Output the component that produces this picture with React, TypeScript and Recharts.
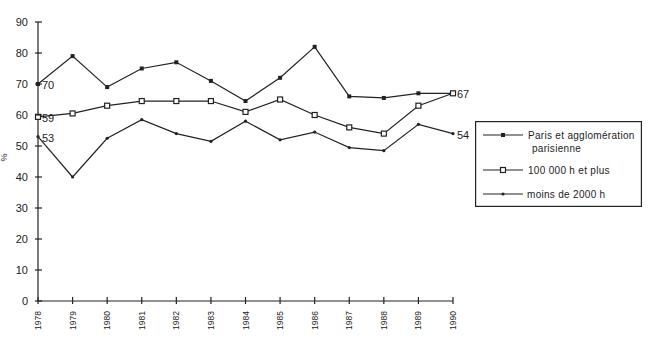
import { LineChart, Line, XAxis, YAxis, LabelList } from "recharts"

const years = [1978, 1979, 1980, 1981, 1982, 1983, 1984, 1985, 1986, 1987, 1988, 1989, 1990]
const paris = [70, 79, 69, 75, 77, 71, 64.5, 72, 82, 66, 65.5, 67, 67]
const grandes = [59.4, 60.5, 63, 64.5, 64.5, 64.5, 61, 65, 60, 56, 54, 63, 67]
const petites = [53, 40, 52.5, 58.5, 54, 51.5, 58, 52, 54.5, 49.5, 48.5, 57, 54]
const yTicks = [0, 10, 20, 30, 40, 50, 60, 70, 80, 90]

const seriesNames = ["Paris et agglomération", "100 000 h et plus", "moins de 2000 h"]

const data = years.map((year, i) => ({
  year,
  paris: paris[i],
  grandes: grandes[i],
  petites: petites[i],
}))

const ink = "#222"
const font = "'Liberation Sans', Arial, sans-serif"

function FilledSquare(props: any) {
  const { cx, cy } = props
  if (cx == null || cy == null) return null
  return <rect x={cx - 2} y={cy - 2} width={4} height={4} fill={ink} />
}

function OpenSquare(props: any) {
  const { cx, cy } = props
  if (cx == null || cy == null) return null
  return <rect x={cx - 2.5} y={cy - 2.5} width={5} height={5} fill="#fff" stroke={ink} strokeWidth={1.2} />
}

function SmallDot(props: any) {
  const { cx, cy } = props
  if (cx == null || cy == null) return null
  return <circle cx={cx} cy={cy} r={1.6} fill={ink} />
}

function YTick(props: any) {
  const { x, y, payload } = props
  return (
    <g>
      <line x1={x - 3} x2={x + 4} y1={y} y2={y} stroke={ink} strokeWidth={1.2} />
      <text x={x - 10} y={y} textAnchor="end" dominantBaseline="central" fontSize={11} fill={ink} fontFamily={font}>
        {payload.value}
      </text>
    </g>
  )
}

function XTick(props: any) {
  const { x, y, payload } = props
  return (
    <g>
      <line x1={x} x2={x} y1={y - 4} y2={y + 3} stroke={ink} strokeWidth={1.2} />
      <text
        x={x}
        y={y + 10}
        transform={`rotate(-90 ${x} ${y + 10})`}
        textAnchor="end"
        dominantBaseline="central"
        fontSize={8.5}
        fill={ink}
        fontFamily={font}
      >
        {payload.value}
      </text>
    </g>
  )
}

// only some points carry their value
const endLabel = (showFirst: boolean, showLast: boolean) => (props: any) => {
  const { x, y, value, index } = props
  if (!((index === 0 && showFirst) || (index === years.length - 1 && showLast))) return null
  return (
    <text x={x + 4} y={y + 1} dominantBaseline="central" fontSize={11} fill={ink} fontFamily={font}>
      {Math.round(value)}
    </text>
  )
}

function LegendBox() {
  const row = (y: number, marker: React.ReactNode) => (
    <g>
      <line x1={8} x2={48} y1={y} y2={y} stroke={ink} strokeWidth={1.2} />
      {marker}
    </g>
  )
  return (
    <div style={{ position: "absolute", left: 475, top: 121, width: 167, height: 86 }}>
      <svg width={167} height={86}>
        <rect x={0.6} y={0.6} width={165.8} height={84.8} fill="#fff" stroke={ink} strokeWidth={1.2} />
        {row(14, <rect x={26} y={12} width={4} height={4} fill={ink} />)}
        {row(49, <rect x={25.5} y={46.5} width={5} height={5} fill="#fff" stroke={ink} strokeWidth={1.2} />)}
        {row(73, <circle cx={28} cy={73} r={1.6} fill={ink} />)}
        <g fontFamily={font} fontSize={10} letterSpacing={0.3} fill={ink} dominantBaseline="central">
          <text x={53} y={14}>{seriesNames[0]}</text>
          <text x={57} y={27}>parisienne</text>
          <text x={53} y={49}>{seriesNames[1]}</text>
          <text x={52} y={73}>{seriesNames[2]}</text>
        </g>
      </svg>
    </div>
  )
}

export default function App() {
  return (
    <div style={{ position: "absolute", left: 0, top: 0, width: 649, height: 340, background: "#fff" }}>
      <LineChart width={649} height={340} data={data} margin={{ top: 22, right: 196, bottom: 4, left: 8 }}>
        <XAxis
          dataKey="year"
          type="number"
          domain={[1978, 1990]}
          ticks={years}
          interval={0}
          height={35}
          tickSize={0}
          tickMargin={0}
          tickLine={false}
          axisLine={{ stroke: ink, strokeWidth: 1.2 }}
          tick={<XTick />}
        />
        <YAxis
          type="number"
          domain={[0, 90]}
          ticks={yTicks}
          interval={0}
          width={30}
          tickSize={0}
          tickMargin={0}
          tickLine={false}
          axisLine={{ stroke: ink, strokeWidth: 1.2 }}
          tick={<YTick />}
          label={{ value: "%", angle: -90, position: "insideLeft", offset: -4, fontSize: 9, fill: ink, fontFamily: font }}
        />
        <Line
          dataKey="paris"
          name={seriesNames[0]}
          stroke={ink}
          strokeWidth={1.2}
          dot={<FilledSquare />}
          activeDot={false}
          isAnimationActive={false}
        >
          <LabelList dataKey="paris" content={endLabel(true, false)} />
        </Line>
        <Line
          dataKey="grandes"
          name={seriesNames[1]}
          stroke={ink}
          strokeWidth={1.2}
          dot={<OpenSquare />}
          activeDot={false}
          isAnimationActive={false}
        >
          <LabelList dataKey="grandes" content={endLabel(true, true)} />
        </Line>
        <Line
          dataKey="petites"
          name={seriesNames[2]}
          stroke={ink}
          strokeWidth={1.2}
          dot={<SmallDot />}
          activeDot={false}
          isAnimationActive={false}
        >
          <LabelList dataKey="petites" content={endLabel(true, true)} />
        </Line>
      </LineChart>
      <LegendBox />
    </div>
  )
}
